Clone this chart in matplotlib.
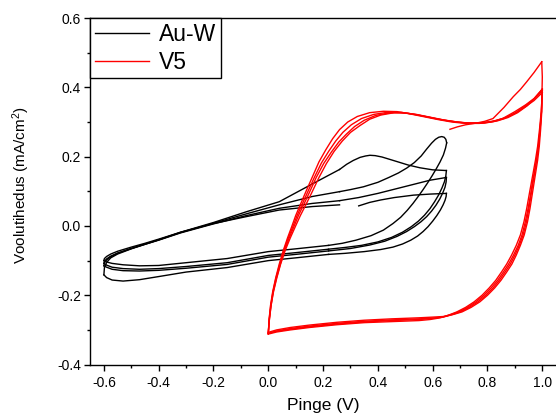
import matplotlib
matplotlib.use("Agg")
import matplotlib.pyplot as plt
from matplotlib.ticker import MultipleLocator

plt.rcParams['font.family'] = ['Liberation Sans', 'DejaVu Sans']
plt.rcParams['mathtext.fontset'] = 'custom'
plt.rcParams['mathtext.rm'] = 'Liberation Sans'
plt.rcParams['mathtext.default'] = 'regular'

# ---------------- Au-W (black), potential V / current density mA/cm2 ----------------
# first half-scan
auw_start_v = [0.33, 0.37, 0.41, 0.46, 0.53, 0.59, 0.65]
auw_start_i = [0.058, 0.068, 0.075, 0.082, 0.089, 0.092, 0.094]

# reverse scans (from the 0.65 V vertex down to 0.22 V)
auw_d1_v = [0.65, 0.649, 0.645, 0.638, 0.628, 0.615, 0.6, 0.583, 0.565, 0.545, 0.52, 0.49, 0.455, 0.41, 0.35, 0.28, 0.22]
auw_d1_i = [0.094, 0.085, 0.074, 0.061, 0.046, 0.03, 0.014, -0.002, -0.016, -0.029, -0.041, -0.052, -0.061, -0.068, -0.074, -0.079, -0.082]
auw_dp_v = [0.65, 0.648, 0.643, 0.634, 0.622, 0.607, 0.59, 0.57, 0.548, 0.522, 0.49, 0.45, 0.4, 0.34, 0.28, 0.22]
auw_dp_i = [0.16, 0.145, 0.128, 0.11, 0.09, 0.07, 0.05, 0.031, 0.014, -0.002, -0.018, -0.033, -0.046, -0.056, -0.062, -0.067]
auw_dc_v = [0.65, 0.649, 0.645, 0.637, 0.626, 0.612, 0.596, 0.578, 0.557, 0.533, 0.505, 0.47, 0.425, 0.37, 0.3, 0.22]
auw_dc_i = [0.14, 0.127, 0.112, 0.096, 0.078, 0.06, 0.043, 0.027, 0.012, -0.002, -0.016, -0.03, -0.044, -0.055, -0.065, -0.072]
auw_db_v = [0.651, 0.647, 0.639, 0.627, 0.613, 0.598, 0.582, 0.565, 0.547, 0.528, 0.507, 0.483, 0.455, 0.42, 0.375, 0.32, 0.27, 0.22]
auw_db_i = [0.24, 0.225, 0.205, 0.185, 0.165, 0.145, 0.125, 0.105, 0.085, 0.065, 0.045, 0.025, 0.007, -0.012, -0.028, -0.041, -0.05, -0.056]

# lower branches from 0.22 V to -0.6 V
auw_low_v = [0.22, 0.1, 0.0, -0.15, -0.3, -0.4, -0.47, -0.53, -0.57, -0.59, -0.6]
auw_l1_i = [-0.082, -0.092, -0.1, -0.12, -0.133, -0.146, -0.155, -0.159, -0.156, -0.149, -0.141]
auw_lp_i = [-0.067, -0.077, -0.085, -0.106, -0.117, -0.123, -0.125, -0.123, -0.119, -0.113, -0.108]
auw_lc_i = [-0.072, -0.082, -0.09, -0.111, -0.122, -0.128, -0.13, -0.129, -0.125, -0.119, -0.115]
auw_lb_i = [-0.056, -0.066, -0.074, -0.094, -0.106, -0.114, -0.115, -0.112, -0.108, -0.104, -0.10]

# forward scans from -0.6 V to 0.26 V
auw_up_v = [-0.6, -0.598, -0.59, -0.575, -0.55, -0.5, -0.45, -0.4, -0.32, -0.2, -0.08, 0.04, 0.16, 0.26]
auw_up_p_i = [-0.141, -0.12, -0.105, -0.092, -0.081, -0.066, -0.053, -0.04, -0.018, 0.01, 0.041, 0.07, 0.121, 0.163]
auw_up_c_i = [-0.108, -0.102, -0.095, -0.087, -0.078, -0.065, -0.053, -0.041, -0.02, 0.006, 0.03, 0.051, 0.065, 0.073]
auw_up_b_i = [-0.115, -0.106, -0.098, -0.089, -0.079, -0.065, -0.052, -0.04, -0.019, 0.008, 0.035, 0.061, 0.085, 0.099]
auw_up_e_i = [-0.10, -0.094, -0.088, -0.081, -0.073, -0.061, -0.05, -0.038, -0.018, 0.007, 0.027, 0.046, 0.056, 0.061]

# forward scans from 0.26 V up to the vertex
auw_peak_v = [0.26, 0.286, 0.31, 0.335, 0.355, 0.371, 0.39, 0.415, 0.44, 0.469, 0.51, 0.553, 0.6, 0.65]
auw_peak_i = [0.163, 0.178, 0.189, 0.198, 0.202, 0.204, 0.203, 0.199, 0.193, 0.186, 0.176, 0.168, 0.162, 0.16]
auw_mid_v = [0.26, 0.33, 0.4, 0.47, 0.53, 0.59, 0.65]
auw_mid_i = [0.073, 0.082, 0.094, 0.108, 0.12, 0.132, 0.14]
auw_top_v = [0.26, 0.3, 0.347, 0.4, 0.44, 0.475, 0.505, 0.533, 0.558, 0.578, 0.596, 0.61, 0.622, 0.633, 0.642, 0.648, 0.651]
auw_top_i = [0.099, 0.105, 0.113, 0.126, 0.14, 0.153, 0.167, 0.183, 0.202, 0.222, 0.239, 0.25, 0.256, 0.258, 0.256, 0.25, 0.24]

# ---------------- V5 (red) ----------------
v5_start_v = [0.663, 0.69, 0.72, 0.76, 0.79, 0.82, 0.86, 0.894, 0.92, 0.943, 0.97, 0.998]
v5_start_i = [0.279, 0.286, 0.292, 0.297, 0.302, 0.31, 0.342, 0.373, 0.394, 0.416, 0.443, 0.474]

v5_rev1_v = [0.998, 1.0, 0.999, 0.997, 0.992, 0.986, 0.979, 0.972, 0.966, 0.959, 0.951, 0.942, 0.93, 0.916,
             0.9, 0.883, 0.864, 0.843, 0.82, 0.794, 0.765, 0.733, 0.7, 0.67, 0.638, 0.6, 0.55, 0.45, 0.35,
             0.25, 0.15, 0.08, 0.03, 0.0]
v5_rev1_i = [0.474, 0.43, 0.39, 0.33, 0.28, 0.23, 0.19, 0.155, 0.125, 0.09, 0.05, 0.012, -0.026, -0.056,
             -0.084, -0.11, -0.133, -0.157, -0.179, -0.2, -0.219, -0.235, -0.248, -0.256, -0.263, -0.266,
             -0.268, -0.271, -0.275, -0.281, -0.289, -0.296, -0.303, -0.31]
v5_rev2_v = [1.0, 0.996, 0.99, 0.983, 0.975, 0.967, 0.96, 0.952, 0.943, 0.933, 0.92, 0.905,
             0.888, 0.87, 0.851, 0.83, 0.806, 0.78, 0.751, 0.72, 0.688, 0.659, 0.628, 0.59, 0.55, 0.45,
             0.35, 0.25, 0.15, 0.08, 0.03, 0.0]
v5_rev2_i = [0.385, 0.33, 0.28, 0.23, 0.19, 0.155, 0.125, 0.09, 0.05, 0.012, -0.026, -0.056,
             -0.084, -0.11, -0.133, -0.157, -0.179, -0.2, -0.219, -0.235, -0.248, -0.257, -0.265, -0.27,
             -0.273, -0.276, -0.279, -0.285, -0.293, -0.3, -0.306, -0.312]
v5_rev3_v = [1.0, 0.998, 0.994, 0.989, 0.983, 0.976, 0.97, 0.963, 0.955, 0.946, 0.934, 0.92,
             0.905, 0.889, 0.87, 0.849, 0.826, 0.8, 0.772, 0.74, 0.707, 0.677, 0.645, 0.6, 0.55, 0.45,
             0.35, 0.25, 0.15, 0.08, 0.03, 0.0]
v5_rev3_i = [0.395, 0.33, 0.28, 0.23, 0.19, 0.155, 0.125, 0.09, 0.05, 0.012, -0.026, -0.056,
             -0.084, -0.11, -0.133, -0.157, -0.179, -0.2, -0.219, -0.235, -0.248, -0.255, -0.261, -0.263,
             -0.265, -0.268, -0.272, -0.278, -0.286, -0.293, -0.3, -0.307]
v5_rev4_v = [1.0, 0.997, 0.992, 0.986, 0.979, 0.971, 0.964, 0.957, 0.948, 0.938, 0.926, 0.912,
             0.895, 0.877, 0.858, 0.837, 0.813, 0.787, 0.758, 0.727, 0.694, 0.665, 0.633, 0.595, 0.55,
             0.45, 0.35, 0.25, 0.15, 0.08, 0.03, 0.0]
v5_rev4_i = [0.39, 0.33, 0.28, 0.23, 0.19, 0.155, 0.125, 0.09, 0.05, 0.012, -0.026, -0.056,
             -0.084, -0.11, -0.133, -0.157, -0.179, -0.2, -0.219, -0.235, -0.248, -0.256, -0.263, -0.267,
             -0.27, -0.273, -0.277, -0.283, -0.291, -0.298, -0.304, -0.31]

v5_fwd1_v = [0.0, 0.003, 0.008, 0.016, 0.027, 0.04, 0.055, 0.07, 0.085, 0.1, 0.115, 0.135, 0.16, 0.185,
             0.21, 0.235, 0.26, 0.29, 0.325, 0.37, 0.42, 0.47, 0.52, 0.57, 0.62, 0.67, 0.72, 0.77, 0.82,
             0.86, 0.9, 0.94, 0.97, 1.0]
v5_fwd1_i = [-0.31, -0.27, -0.23, -0.19, -0.15, -0.11, -0.07, -0.035, -0.003, 0.03, 0.058, 0.095, 0.14, 0.185,
             0.22, 0.252, 0.278, 0.3, 0.316, 0.327, 0.331, 0.33, 0.323, 0.315, 0.307, 0.3, 0.296, 0.296, 0.301,
             0.31, 0.325, 0.345, 0.362, 0.385]
v5_fwd2_v = [0.0, 0.003, 0.009, 0.017, 0.028, 0.042, 0.057, 0.073, 0.089, 0.105, 0.121, 0.142, 0.168, 0.194,
             0.22, 0.246, 0.272, 0.303, 0.34, 0.385, 0.435, 0.485, 0.535, 0.585, 0.635, 0.685, 0.735, 0.785,
             0.83, 0.87, 0.905, 0.94, 0.97, 1.0]
v5_fwd2_i = [-0.312, -0.27, -0.23, -0.19, -0.15, -0.11, -0.07, -0.035, -0.003, 0.03, 0.058, 0.095, 0.14, 0.182,
             0.215, 0.245, 0.27, 0.292, 0.31, 0.322, 0.328, 0.328, 0.322, 0.314, 0.306, 0.3, 0.297, 0.298,
             0.304, 0.314, 0.328, 0.348, 0.366, 0.39]
v5_fwd3_v = [0.0, 0.004, 0.01, 0.018, 0.03, 0.044, 0.06, 0.076, 0.093, 0.11, 0.127, 0.149, 0.175, 0.202,
             0.23, 0.257, 0.285, 0.315, 0.35, 0.392, 0.44, 0.49, 0.54, 0.59, 0.64, 0.69, 0.74, 0.79,
             0.835, 0.875, 0.91, 0.945, 0.972, 1.0]
v5_fwd3_i = [-0.307, -0.27, -0.23, -0.19, -0.15, -0.11, -0.07, -0.035, -0.003, 0.03, 0.058, 0.095, 0.14, 0.18,
             0.213, 0.242, 0.265, 0.287, 0.305, 0.319, 0.326, 0.327, 0.322, 0.314, 0.306, 0.3, 0.296, 0.297,
             0.303, 0.313, 0.327, 0.347, 0.368, 0.395]
v5_fwd4_v = [0.0, 0.004, 0.01, 0.019, 0.031, 0.045, 0.062, 0.08, 0.098, 0.117, 0.135, 0.158, 0.185, 0.212,
             0.24, 0.27, 0.3, 0.335, 0.37, 0.41, 0.46, 0.51, 0.56, 0.61, 0.66, 0.71, 0.76, 0.81,
             0.855, 0.9, 0.94, 0.97, 1.0]
v5_fwd4_i = [-0.31, -0.27, -0.23, -0.19, -0.15, -0.11, -0.07, -0.035, -0.003, 0.03, 0.058, 0.095, 0.14, 0.18,
             0.215, 0.245, 0.27, 0.29, 0.308, 0.32, 0.327, 0.325, 0.318, 0.31, 0.303, 0.298, 0.297, 0.3,
             0.31, 0.33, 0.35, 0.368, 0.395]

# ---------------- axes ----------------
x_ticks = [-0.6, -0.4, -0.2, 0.0, 0.2, 0.4, 0.6, 0.8, 1.0]
y_ticks = [-0.4, -0.2, 0.0, 0.2, 0.4, 0.6]

fig = plt.figure(figsize=(5.56, 4.17), dpi=100)
ax = fig.add_axes([0.1622, 0.1257, 0.8378, 0.831])

lw = 1.0
black = 'black'
red = '#ff0000'

# Au-W: one continuous scan sequence, drawn branch by branch
au_branches = [
    (auw_start_v, auw_start_i),
    (auw_d1_v, auw_d1_i), (auw_low_v, auw_l1_i), (auw_up_v, auw_up_p_i), (auw_peak_v, auw_peak_i),
    (auw_dp_v, auw_dp_i), (auw_low_v, auw_lp_i), (auw_up_v, auw_up_c_i), (auw_mid_v, auw_mid_i),
    (auw_dc_v, auw_dc_i), (auw_low_v, auw_lc_i), (auw_up_v, auw_up_b_i), (auw_top_v, auw_top_i),
    (auw_db_v, auw_db_i), (auw_low_v, auw_lb_i), (auw_up_v, auw_up_e_i),
]
for k, (v, i) in enumerate(au_branches):
    ax.plot(v, i, color=black, lw=lw, solid_joinstyle='round',
            label='Au-W' if k == 0 else None, zorder=2)

v5_branches = [
    (v5_start_v, v5_start_i), (v5_rev1_v, v5_rev1_i), (v5_fwd1_v, v5_fwd1_i),
    (v5_rev2_v, v5_rev2_i), (v5_fwd2_v, v5_fwd2_i), (v5_rev3_v, v5_rev3_i),
    (v5_fwd3_v, v5_fwd3_i), (v5_rev4_v, v5_rev4_i), (v5_fwd4_v, v5_fwd4_i),
]
for k, (v, i) in enumerate(v5_branches):
    ax.plot(v, i, color=red, lw=lw, solid_joinstyle='round',
            label='V5' if k == 0 else None, zorder=3)

ax.set_xlim(-0.65, 1.05)
ax.set_ylim(-0.4, 0.6)
ax.set_xticks(x_ticks)
ax.set_yticks(y_ticks)
ax.set_xticklabels([f'{t:.1f}' for t in x_ticks])
ax.set_yticklabels([f'{t:.1f}' for t in y_ticks])
ax.xaxis.set_minor_locator(MultipleLocator(0.1))
ax.yaxis.set_minor_locator(MultipleLocator(0.1))
ax.tick_params(which='both', direction='out', width=1.0, labelsize=10, top=False, right=False)
ax.tick_params(which='major', length=4.0)
ax.tick_params(which='minor', length=2.5)
ax.tick_params(axis='x', pad=4)
ax.tick_params(axis='y', pad=2.5)
for s in ('left', 'bottom', 'top'):
    ax.spines[s].set_linewidth(1.0)
ax.spines['right'].set_visible(False)

ax.set_xlabel('Pinge (V)', fontsize=12.5, labelpad=6)
ax.set_ylabel('Voolutihedus (mA/cm$^2$)', fontsize=11)
ax.yaxis.set_label_coords(-0.125, 0.517)

leg = ax.legend(loc='upper left', bbox_to_anchor=(0, 1), borderaxespad=0,
                fontsize=16.5, frameon=True, fancybox=False, framealpha=1,
                edgecolor='black', handlelength=2.35, handletextpad=0.45,
                borderpad=0.2, labelspacing=0.22)
leg.get_frame().set_linewidth(1.0)

fig.savefig('out.png', dpi=100)
